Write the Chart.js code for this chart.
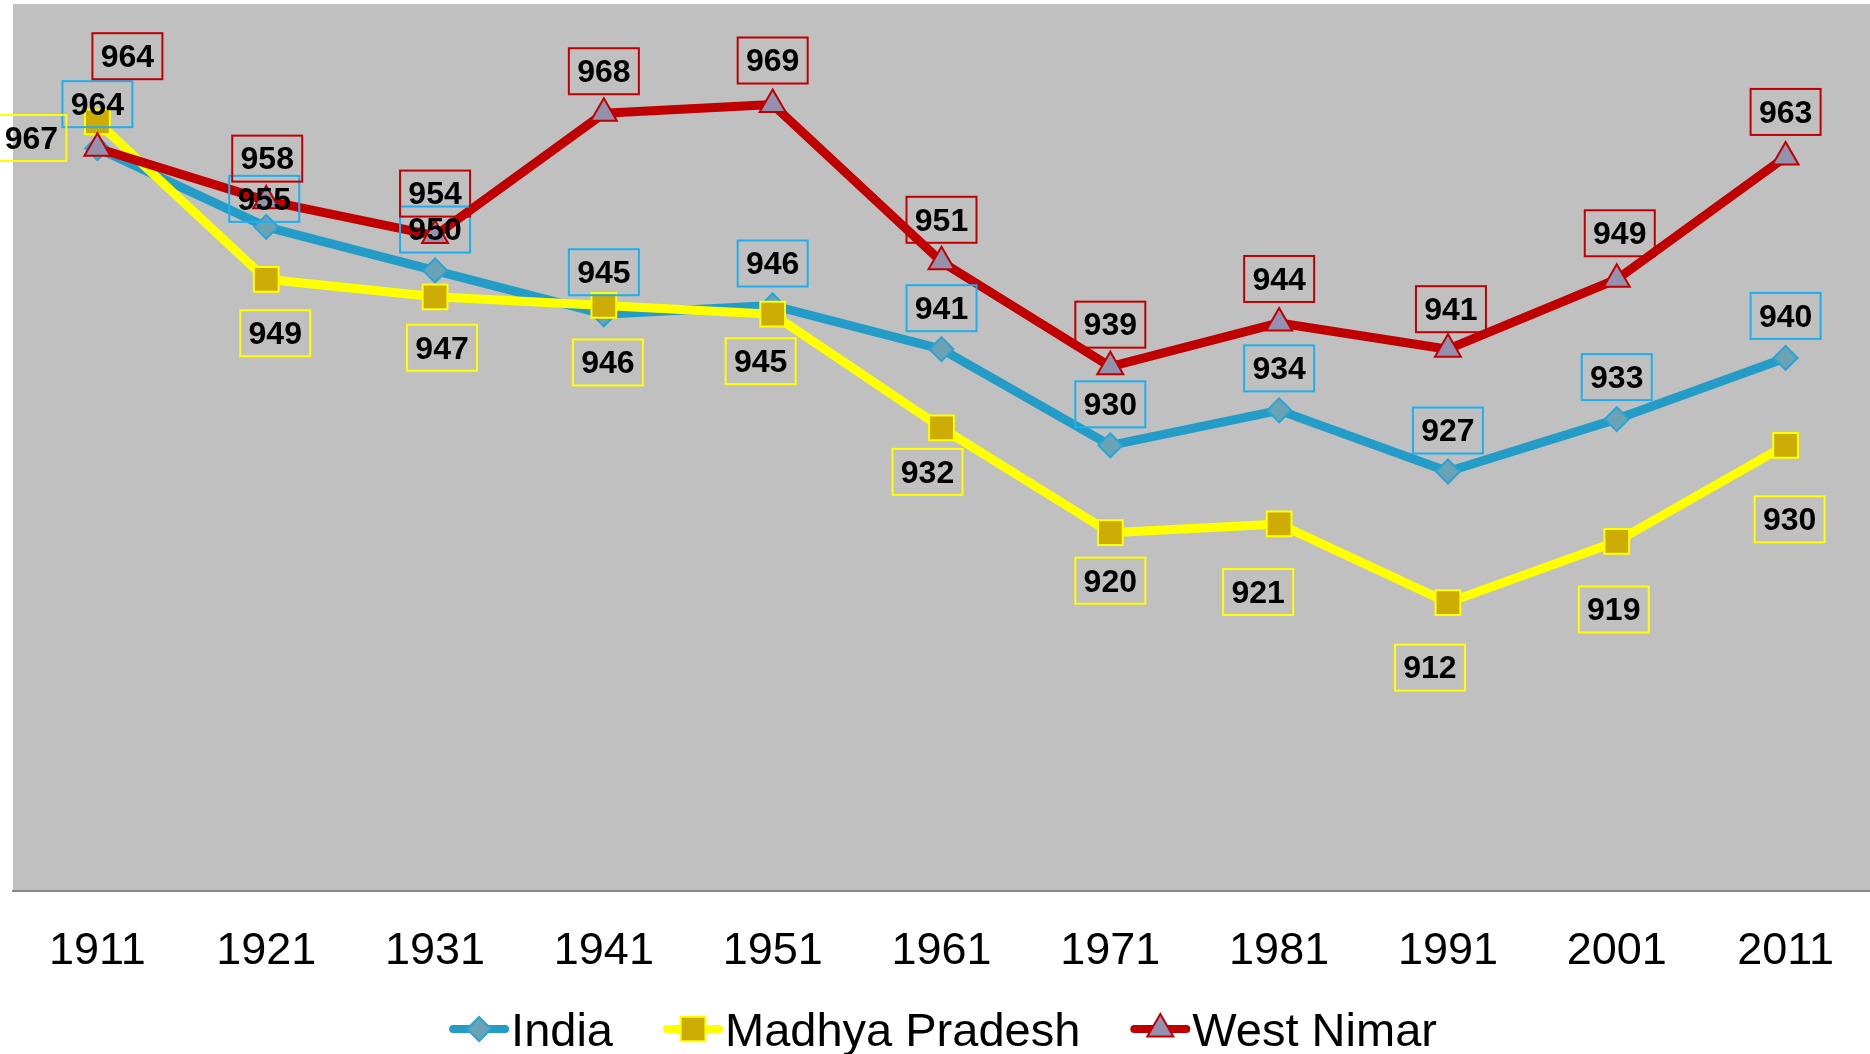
<!DOCTYPE html>
<html>
<head>
<meta charset="utf-8">
<script src="https://cdn.jsdelivr.net/npm/chart.js@4.4.0/dist/chart.umd.min.js"></script>
<style>
  html, body { margin: 0; padding: 0; background: #fff; }
  #wrap { width: 1870px; height: 1054px; }
</style>
</head>
<body>
<div id="wrap"><canvas id="chart" width="1870" height="1054"></canvas></div>
<script>
// Datos: razon de sexos (mujeres por 1000 hombres)
const years = ['1911', '1921', '1931', '1941', '1951', '1961', '1971', '1981', '1991', '2001', '2011'];
const india = [964, 955, 950, 945, 946, 941, 930, 934, 927, 933, 940];
const madhyaPradesh = [967, 949, 947, 946, 945, 932, 920, 921, 912, 919, 930];
const westNimar = [964, 958, 954, 968, 969, 951, 939, 944, 941, 949, 963];
const seriesNames = ['India', 'Madhya Pradesh', 'West Nimar'];

// Desplazamiento de cada etiqueta respecto a su punto (px)
const indiaShift = [[0, -44], [-2, -28], [0, -41], [0, -42], [0, -42], [0, -41], [0, -41], [0, -42], [0, -41], [0, -42], [0, -42]];
const mpShift = [[-66, 16], [9, 54], [7, 51], [4, 57], [-12, 47], [-14, 44], [0, 48], [-21, 68], [-18, 65], [-3, 68], [4, 74]];
const wnShift = [[30, -92], [1, -42], [0, -42], [0, -42], [0, -44], [0, -42], [0, -42], [0, -44], [3, -40], [3, -46], [0, -45]];

const FONT = '"Liberation Sans", Arial, sans-serif';

// Fondo gris del area de trazado
const plotBackground = {
  id: 'plotBackground',
  beforeDraw(chart) {
    const { ctx, chartArea } = chart;
    ctx.save();
    ctx.fillStyle = '#ffffff';
    ctx.fillRect(0, 0, chart.width, chart.height);
    ctx.fillStyle = '#c0c0c0';
    ctx.fillRect(chartArea.left, chartArea.top, chartArea.right - chartArea.left, chartArea.bottom - chartArea.top);
    ctx.restore();
  }
};

// Etiquetas de datos con recuadro
const labelBoxes = {
  id: 'labelBoxes',
  afterDatasetsDraw(chart) {
    const ctx = chart.ctx;
    ctx.save();
    ctx.font = 'bold 32px ' + FONT;
    ctx.textAlign = 'center';
    ctx.textBaseline = 'middle';
    chart.data.datasets.forEach((ds, di) => {
      const meta = chart.getDatasetMeta(di);
      meta.data.forEach((pt, i) => {
        const [dx, dy] = ds.labelShift[i];
        const x = pt.x + dx, y = pt.y + dy;
        ctx.lineWidth = 2;
        ctx.strokeStyle = ds.labelBorder;
        ctx.strokeRect(x - 35, y - 23, 70, 46);
        ctx.fillStyle = '#000';
        ctx.fillText(String(ds.data[i]), x, y + 2);
      });
    });
    ctx.restore();
  }
};

// Leyenda inferior: linea + marcador + texto
const bottomLegend = {
  id: 'bottomLegend',
  afterDraw(chart) {
    const ctx = chart.ctx;
    ctx.save();
    ctx.font = '47px ' + FONT;
    const sample = 60, gapText = 2, gapItem = 50;
    const items = chart.data.datasets;
    const widths = items.map(ds => ctx.measureText(ds.label).width);
    const total = widths.reduce((a, w) => a + w + sample + gapText, 0) + gapItem * (items.length - 1);
    let x = chart.width / 2 + 8 - total / 2;
    const y = 1029;
    items.forEach((ds, i) => {
      ctx.strokeStyle = ds.borderColor;
      ctx.lineWidth = 8;
      ctx.lineCap = 'round';
      ctx.beginPath();
      ctx.moveTo(x + 4, y);
      ctx.lineTo(x + sample - 4, y);
      ctx.stroke();
      ctx.fillStyle = ds.pointBackgroundColor;
      ctx.strokeStyle = ds.pointBorderColor;
      ctx.lineWidth = 2;
      Chart.helpers.drawPoint(ctx, { pointStyle: ds.pointStyle, radius: ds.pointRadius, rotation: 0, borderWidth: 2 }, x + sample / 2, y);
      ctx.fillStyle = '#000';
      ctx.textBaseline = 'alphabetic';
      ctx.textAlign = 'left';
      ctx.fillText(ds.label, x + sample + gapText, y + 17);
      x += sample + gapText + widths[i] + gapItem;
    });
    ctx.restore();
  }
};

new Chart(document.getElementById('chart'), {
  type: 'line',
  data: {
    labels: years,
    datasets: [
      {
        label: seriesNames[0], data: india, order: 3,
        borderColor: '#239dc8', borderWidth: 9,
        pointStyle: 'rectRot', pointRadius: 12,
        pointBackgroundColor: '#6aa3b5', pointBorderColor: '#2aa4d4', pointBorderWidth: 2,
        labelShift: indiaShift, labelBorder: '#1eb0ee'
      },
      {
        label: seriesNames[1], data: madhyaPradesh, order: 2,
        borderColor: '#ffff00', borderWidth: 9,
        pointStyle: 'rect', pointRadius: 17.5,
        pointBackgroundColor: '#cdac06', pointBorderColor: '#ffff00', pointBorderWidth: 2,
        labelShift: mpShift, labelBorder: '#ffff00'
      },
      {
        label: seriesNames[2], data: westNimar, order: 1,
        borderColor: '#c00000', borderWidth: 9,
        pointStyle: 'triangle', pointRadius: 15,
        pointBackgroundColor: '#9391ad', pointBorderColor: '#c00000', pointBorderWidth: 2,
        labelShift: wnShift, labelBorder: '#c00000'
      }
    ]
  },
  options: {
    responsive: false,
    animation: false,
    events: [],
    devicePixelRatio: 1,
    layout: { autoPadding: false, padding: { top: 4, left: 13, right: -8, bottom: 41 } },
    elements: { line: { tension: 0, borderJoinStyle: 'round', borderCapStyle: 'round' } },
    plugins: { legend: { display: false }, tooltip: { enabled: false } },
    scales: {
      x: {
        offset: true,
        grid: { display: false, drawTicks: false },
        border: { display: true, color: '#868686', width: 2 },
        ticks: { color: '#000', font: { size: 45, family: FONT }, padding: 34, maxRotation: 0, autoSkip: false }
      },
      y: { display: false, min: 879, max: 980.5 }
    }
  },
  plugins: [plotBackground, labelBoxes, bottomLegend]
});
</script>
</body>
</html>
